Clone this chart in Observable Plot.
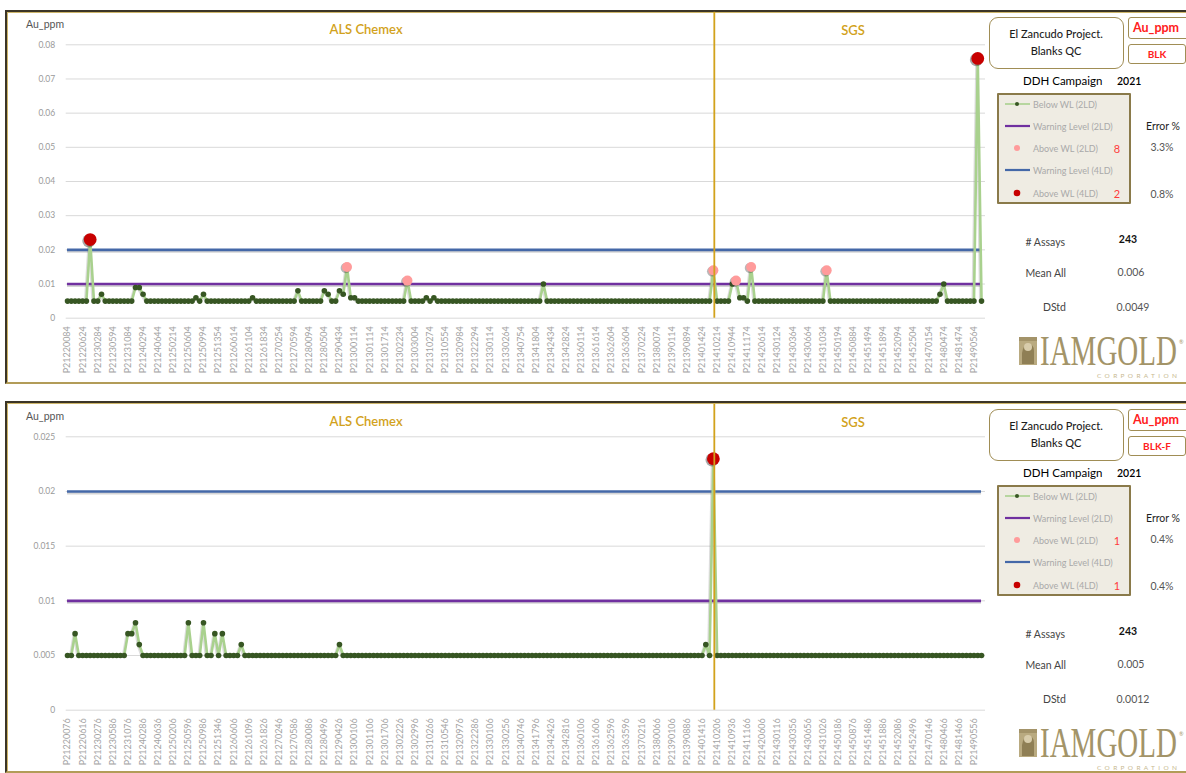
<!DOCTYPE html>
<html><head><meta charset="utf-8">
<script src="https://cdn.jsdelivr.net/npm/d3@7"></script>
<script src="https://cdn.jsdelivr.net/npm/@observablehq/plot@0.6"></script>
<style>
html,body{margin:0;padding:0}
body{width:1186px;height:773px;overflow:hidden;background:#fff;position:relative;font-family:Lato,"Open Sans",sans-serif}
.panel{position:absolute;left:5px;width:1185px;box-sizing:border-box;border-left:2px solid #3b3527;border-top:2px solid #3b3527;border-bottom:2px solid #b29c58;box-shadow:inset 1px 1px 0 #cdb56a}
.t{position:absolute;white-space:nowrap;line-height:1}
.box{position:absolute;box-sizing:border-box;border:1.5px solid #a08d55;background:#fff}
.plotwrap{position:absolute;left:0}
.plotwrap svg{overflow:visible}
.plotwrap g[aria-label="x-axis tick label"] text{font-size:9px;fill:#a3a3a3}
.plotwrap g[aria-label="y-axis tick label"] text{font-size:8.5px;fill:#9a9a9a}
</style>
</head><body>
<script>
// ---------- data ----------
const labNames = ["ALS Chemex", "SGS"];
const labSwitchIndex = 171.25;          // position of the lab change (between samples)
const warnLevel2LD = 0.01;
const warnLevel4LD = 0.02;

// Panel 1 : BLK
const blkYTicks = [0, 0.01, 0.02, 0.03, 0.04, 0.05, 0.06, 0.07, 0.08];
const blkSampleLabels = ["P21220084","P21220624","P21230284","P21230594","P21231084","P21240294","P21240644","P21250214","P21250604","P21250994","P21251354","P21260614","P21261104","P21261834","P21270254","P21270594","P21280094","P21280504","P21290434","P21300114","P21301114","P21301714","P21302234","P21303004","P21310274","P21310554","P21320984","P21322294","P21330114","P21330264","P21340754","P21341804","P21342434","P21342824","P21360114","P21361614","P21362604","P21363604","P21370224","P21380074","P21390114","P21390894","P21401424","P21410214","P21410944","P21411174","P21420614","P21430124","P21430364","P21430664","P21431034","P21450194","P21450884","P21451494","P21451894","P21452094","P21452504","P21470154","P21480474","P21481474","P21490564"];
const blkValues = [
 0.005,0.005,0.005,0.005,0.005,0.005,0.023,0.005,0.005,0.007,
 0.005,0.005,0.005,0.005,0.005,0.005,0.005,0.005,0.009,0.009,
 0.007,0.005,0.005,0.005,0.005,0.005,0.005,0.005,0.005,0.005,
 0.005,0.005,0.005,0.005,0.006,0.005,0.007,0.005,0.005,0.005,
 0.005,0.005,0.005,0.005,0.005,0.005,0.005,0.005,0.005,0.006,
 0.005,0.005,0.005,0.005,0.005,0.005,0.005,0.005,0.005,0.005,
 0.005,0.008,0.005,0.005,0.005,0.005,0.005,0.005,0.008,0.007,
 0.005,0.005,0.008,0.007,0.015,0.006,0.006,0.005,0.005,0.005,
 0.005,0.005,0.005,0.005,0.005,0.005,0.005,0.005,0.005,0.005,
 0.011,0.005,0.005,0.005,0.005,0.006,0.005,0.006,0.005,0.005,
 0.005,0.005,0.005,0.005,0.005,0.005,0.005,0.005,0.005,0.005,
 0.005,0.005,0.005,0.005,0.005,0.005,0.005,0.005,0.005,0.005,
 0.005,0.005,0.005,0.005,0.005,0.005,0.010,0.005,0.005,0.005,
 0.005,0.005,0.005,0.005,0.005,0.005,0.005,0.005,0.005,0.005,
 0.005,0.005,0.005,0.005,0.005,0.005,0.005,0.005,0.005,0.005,
 0.005,0.005,0.005,0.005,0.005,0.005,0.005,0.005,0.005,0.005,
 0.005,0.005,0.005,0.005,0.005,0.005,0.005,0.005,0.005,0.005,
 0.005,0.014,0.005,0.005,0.005,0.005,0.010,0.011,0.006,0.006,
 0.005,0.015,0.005,0.005,0.005,0.005,0.005,0.005,0.005,0.005,
 0.005,0.005,0.005,0.005,0.005,0.005,0.005,0.005,0.005,0.005,
 0.005,0.014,0.005,0.005,0.005,0.005,0.005,0.005,0.005,0.005,
 0.005,0.005,0.005,0.005,0.005,0.005,0.005,0.005,0.005,0.005,
 0.005,0.005,0.005,0.005,0.005,0.005,0.005,0.005,0.005,0.005,
 0.005,0.007,0.010,0.005,0.005,0.005,0.005,0.005,0.005,0.005,
 0.005,0.076,0.005
];
const blkStats = {code:"BLK", above2:"8", above4:"2", err2:"3.3%", err4:"0.8%", assays:"243", mean:"0.006", dstd:"0.0049"};

// Panel 2 : BLK-F
const blkfYTicks = [0, 0.005, 0.01, 0.015, 0.02, 0.025];
const blkfSampleLabels = ["P21220076","P21220616","P21230276","P21230586","P21231076","P21240286","P21240636","P21250206","P21250596","P21250986","P21251346","P21260606","P21261096","P21261826","P21270246","P21270586","P21280086","P21280496","P21290426","P21300106","P21301106","P21301706","P21302226","P21302996","P21310266","P21310546","P21320976","P21322286","P21330106","P21330256","P21340746","P21341796","P21342426","P21342816","P21360106","P21361606","P21362596","P21363596","P21370216","P21380066","P21390106","P21390886","P21401416","P21410206","P21410936","P21411166","P21420606","P21430116","P21430356","P21430656","P21431026","P21450186","P21450876","P21451486","P21451886","P21452086","P21452496","P21470146","P21480466","P21481466","P21490556"];
const blkfValues = [
 0.005,0.005,0.007,0.005,0.005,0.005,0.005,0.005,0.005,0.005,
 0.005,0.005,0.005,0.005,0.005,0.005,0.007,0.007,0.008,0.006,
 0.005,0.005,0.005,0.005,0.005,0.005,0.005,0.005,0.005,0.005,
 0.005,0.005,0.008,0.005,0.005,0.005,0.008,0.005,0.005,0.007,
 0.005,0.007,0.005,0.005,0.005,0.005,0.006,0.005,0.005,0.005,
 0.005,0.005,0.005,0.005,0.005,0.005,0.005,0.005,0.005,0.005,
 0.005,0.005,0.005,0.005,0.005,0.005,0.005,0.005,0.005,0.005,
 0.005,0.005,0.006,0.005,0.005,0.005,0.005,0.005,0.005,0.005,
 0.005,0.005,0.005,0.005,0.005,0.005,0.005,0.005,0.005,0.005,
 0.005,0.005,0.005,0.005,0.005,0.005,0.005,0.005,0.005,0.005,
 0.005,0.005,0.005,0.005,0.005,0.005,0.005,0.005,0.005,0.005,
 0.005,0.005,0.005,0.005,0.005,0.005,0.005,0.005,0.005,0.005,
 0.005,0.005,0.005,0.005,0.005,0.005,0.005,0.005,0.005,0.005,
 0.005,0.005,0.005,0.005,0.005,0.005,0.005,0.005,0.005,0.005,
 0.005,0.005,0.005,0.005,0.005,0.005,0.005,0.005,0.005,0.005,
 0.005,0.005,0.005,0.005,0.005,0.005,0.005,0.005,0.005,0.005,
 0.005,0.005,0.005,0.005,0.005,0.005,0.005,0.005,0.005,0.006,
 0.005,0.023,0.005,0.005,0.005,0.005,0.005,0.005,0.005,0.005,
 0.005,0.005,0.005,0.005,0.005,0.005,0.005,0.005,0.005,0.005,
 0.005,0.005,0.005,0.005,0.005,0.005,0.005,0.005,0.005,0.005,
 0.005,0.005,0.005,0.005,0.005,0.005,0.005,0.005,0.005,0.005,
 0.005,0.005,0.005,0.005,0.005,0.005,0.005,0.005,0.005,0.005,
 0.005,0.005,0.005,0.005,0.005,0.005,0.005,0.005,0.005,0.005,
 0.005,0.005,0.005,0.005,0.005,0.005,0.005,0.005,0.005,0.005,
 0.005,0.005,0.005
];
const blkfStats = {code:"BLK-F", above2:"1", above4:"1", err2:"0.4%", err4:"0.4%", assays:"243", mean:"0.005", dstd:"0.0012"};

const legendItems = ["Below WL (2LD)","Warning Level (2LD)","Above WL (2LD)","Warning Level (4LD)","Above WL (4LD)"];

// ---------- colours ----------
const C = {line:"#a9d18e", below:"#375623", pink:"#ff9b9b", red:"#c80000", wl2:"#7030a0", wl4:"#4468a8", gold:"#d2a21c", grid:"#d9d9d9"};

function el(tag, cls, style, text){
  const e = document.createElement(tag);
  if (cls) e.className = cls;
  if (style) e.style.cssText = style;
  if (text != null) e.textContent = text;
  document.body.appendChild(e);
  return e;
}
// text helper: anchor 'm' centred, 's' start, 'e' end ; y is the vertical centre
function txt(x, y, s, style, anchor="m"){
  const tx = anchor === "m" ? "-50%" : anchor === "e" ? "-100%" : "0";
  return el("div", "t", `left:${x}px;top:${y}px;transform:translate(${tx},-50%);${style||""}`, s);
}

function drawPanel(T, values, yTicks, sampleLabels, stats){
  const n = values.length;
  const data = values.map((v, i) => ({i, v}));
  const below = data.filter(d => d.v <= warnLevel2LD);
  const pink = data.filter(d => d.v > warnLevel2LD && d.v <= warnLevel4LD);
  const red = data.filter(d => d.v > warnLevel4LD);
  const wl = [{y: warnLevel2LD, x1: 0, x2: n - 1, c: C.wl2}, {y: warnLevel4LD, x1: 0, x2: n - 1, c: C.wl4}];

  const chart = Plot.plot({
    width: 990, height: 383,
    marginLeft: 65.7, marginRight: 5, marginTop: 44.3, marginBottom: 65.3,
    style: {background: "transparent", fontFamily: "Lato, sans-serif"},
    x: {domain: [-0.35, n + 0.05], ticks: d3.range(0, n, 4), tickFormat: d => sampleLabels[d / 4],
        tickRotate: -90, tickSize: 0, tickPadding: 8, label: null},
    y: {domain: [0, yTicks[yTicks.length - 1]], ticks: yTicks, tickFormat: d => String(d),
        tickSize: 0, tickPadding: 11, label: null},
    marks: [
      Plot.ruleY(yTicks, {stroke: C.grid, strokeWidth: 1}),
      Plot.ruleY(wl, {y: "y", x1: "x1", x2: "x2", stroke: "#888", strokeOpacity: 0.35, strokeWidth: 3, dy: 1.5}),
      Plot.ruleY(wl, {y: "y", x1: "x1", x2: "x2", stroke: "c", strokeWidth: 2.6}),
      Plot.line(data, {x: "i", y: "v", stroke: "#777", strokeOpacity: 0.25, strokeWidth: 3, dx: -1, dy: 1}),
      Plot.line(data, {x: "i", y: "v", stroke: C.line, strokeWidth: 2.6}),
      Plot.dot(below, {x: "i", y: "v", r: 2.8, fill: C.below}),
      Plot.dot(pink, {x: "i", y: "v", r: 5.2, fill: "#333", fillOpacity: 0.35, dx: -1.2, dy: 1}),
      Plot.dot(pink, {x: "i", y: "v", r: 5, fill: C.pink}),
      Plot.dot(red, {x: "i", y: "v", r: 6.6, fill: "#222", fillOpacity: 0.4, dx: -1.3, dy: 1.2}),
      Plot.dot(red, {x: "i", y: "v", r: 6.4, fill: C.red}),
      Plot.ruleX([labSwitchIndex], {stroke: C.gold, strokeWidth: 1.8, insetTop: -32.5})
    ]
  });
  const wrap = el("div", "plotwrap", `top:${T}px`);
  wrap.appendChild(chart);

  // titles
  txt(26, T + 24, "Au_ppm", "font-size:10.5px;color:#555", "s");
  txt(366, T + 29, labNames[0], `font-size:13px;font-weight:600;color:${C.gold}`);
  txt(853, T + 30, labNames[1], `font-size:13px;font-weight:600;color:${C.gold}`);

  // right-hand information panel
  el("div", "box", `left:989px;top:${T+17}px;width:135px;height:52px;border-radius:9px`);
  txt(1056, T + 33, "El Zancudo Project.", "font-size:11px;color:#1e1e1e;font-weight:500");
  txt(1056, T + 50, "Blanks QC", "font-size:11px;color:#1e1e1e;font-weight:500");
  el("div", "box", `left:1128px;top:${T+17}px;width:64px;height:22px;border-radius:3px`);
  txt(1133, T + 28, "Au_ppm", "font-size:12.5px;font-weight:700;color:#ff2020", "s");
  el("div", "box", `left:1128px;top:${T+44}px;width:58px;height:20px;border-radius:3px`);
  txt(1157, T + 54, stats.code, "font-size:10px;font-weight:700;color:#ff2020");
  txt(1023, T + 81, "DDH Campaign", "font-size:11.5px;color:#000", "s");
  txt(1117, T + 81, "2021", "font-size:10.5px;font-weight:600;color:#000", "s");

  el("div", "box", `left:997px;top:${T+93}px;width:134px;height:111px;background:#efece3;border:2px solid #8a7a4a;border-radius:1px`);
  const rowsY = [104, 126, 148, 170, 193].map(y => y + T);
  const sw = document.createElementNS("http://www.w3.org/2000/svg", "svg");
  sw.setAttribute("width", 30); sw.setAttribute("height", 110);
  sw.style.cssText = `position:absolute;left:1003px;top:${T+93}px`;
  const oy = T + 93;
  sw.innerHTML =
    `<line x1="2" x2="27" y1="${rowsY[0]-oy}" y2="${rowsY[0]-oy}" stroke="${C.line}" stroke-width="1.6"/>` +
    `<circle cx="14" cy="${rowsY[0]-oy}" r="2" fill="${C.below}"/>` +
    `<line x1="2" x2="27" y1="${rowsY[1]-oy}" y2="${rowsY[1]-oy}" stroke="${C.wl2}" stroke-width="2.2"/>` +
    `<circle cx="14" cy="${rowsY[2]-oy}" r="3" fill="${C.pink}"/>` +
    `<line x1="2" x2="27" y1="${rowsY[3]-oy}" y2="${rowsY[3]-oy}" stroke="${C.wl4}" stroke-width="2.2"/>` +
    `<circle cx="14" cy="${rowsY[4]-oy}" r="3.3" fill="${C.red}"/>`;
  document.body.appendChild(sw);
  legendItems.forEach((s, k) => txt(1033, rowsY[k], s, "font-size:9px;color:#a9a9a9", "s"));
  txt(1117, rowsY[2], stats.above2, "font-size:11px;color:#ff3b3b");
  txt(1117, rowsY[4], stats.above4, "font-size:11px;color:#ff3b3b");
  txt(1163, rowsY[1], "Error %", "font-size:10.5px;color:#1e1e1e");
  txt(1162, rowsY[2] - 1, stats.err2, "font-size:10.5px;color:#555");
  txt(1162, rowsY[4] + 1, stats.err4, "font-size:10.5px;color:#555");

  txt(1065, T + 242, "# Assays", "font-size:10.5px;color:#444", "e");
  txt(1128, T + 239, stats.assays, "font-size:10.5px;font-weight:700;color:#111");
  txt(1066, T + 273, "Mean All", "font-size:10.5px;color:#444", "e");
  txt(1131, T + 272, stats.mean, "font-size:10.5px;color:#555");
  txt(1066, T + 307, "DStd", "font-size:10.5px;color:#444", "e");
  txt(1133, T + 307, stats.dstd, "font-size:10.5px;color:#555");

  // logo (svg top 8px higher, content shifted down by 8)
  const lg = document.createElementNS("http://www.w3.org/2000/svg", "svg");
  lg.setAttribute("width", 170); lg.setAttribute("height", 58);
  lg.style.cssText = `position:absolute;left:1015px;top:${T+325}px`;
  lg.innerHTML =
    `<g transform="translate(0,8)">` +
    `<rect x="4" y="4" width="18" height="28" fill="#b9aa80"/>` +
    `<path d="M7 31 L7 20 Q8 12 13 11 Q19 11 19 18 L19 31 Z" fill="#8f7f55"/>` +
    `<circle cx="13" cy="14" r="4" fill="#d8ccab"/>` +
    `<rect x="4" y="4" width="18" height="4" fill="#a39369"/>` +
    `<text transform="translate(25,32) scale(1,1.42)" font-family="'Liberation Serif',serif" font-size="29" fill="#a39468">IAMGOLD</text>` +
    `<text x="164" y="11" font-family="Lato" font-size="5.5" fill="#a39468">®</text>` +
    `<text x="82" y="45" font-family="Lato" font-size="6.5" fill="#c8b990" textLength="80" lengthAdjust="spacing">CORPORATION</text>` +
    `</g>`;
  document.body.appendChild(lg);
}

el("div", "panel", "top:10px;height:374px");
el("div", "panel", "top:401px;height:372px");
drawPanel(0, blkValues, blkYTicks, blkSampleLabels, blkStats);
drawPanel(392, blkfValues, blkfYTicks, blkfSampleLabels, blkfStats);
</script>
</body></html>
